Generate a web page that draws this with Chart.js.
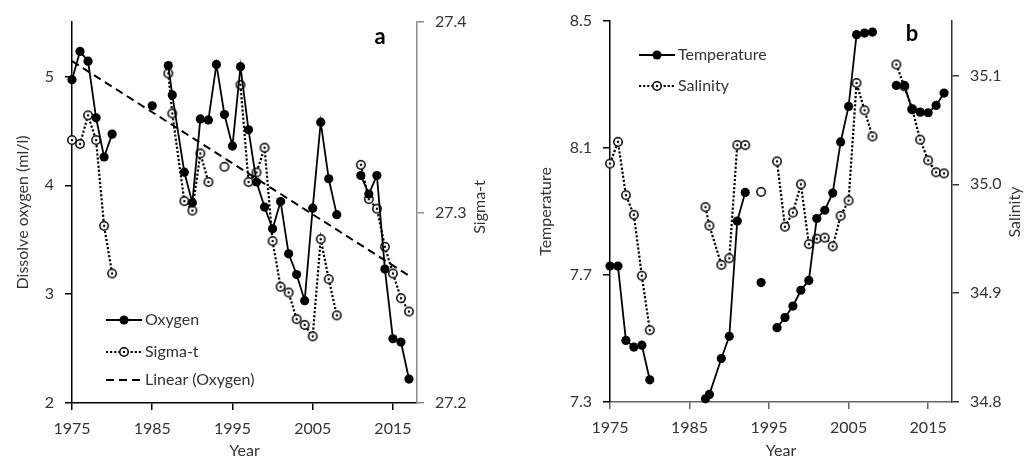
<!DOCTYPE html>
<html>
<head>
<meta charset="utf-8">
<script src="https://cdn.jsdelivr.net/npm/chart.js@4.4.1/dist/chart.umd.min.js"></script>
<style>
  html, body { margin: 0; padding: 0; background: #fff; }
  #wrap { position: relative; width: 1030px; height: 460px; }
  canvas { position: absolute; top: 0; }
  #chartA { left: 0; }
  #chartB { left: 515px; }
</style>
</head>
<body>
<div id="wrap">
  <canvas id="chartA" width="515" height="460"></canvas>
  <canvas id="chartB" width="515" height="460"></canvas>
</div>
<script>
// sample years (two cruises in 1987)
const years = [1975, 1976, 1977, 1978, 1979, 1980, 1985, 1987, 1987.5,
  1989, 1990, 1991, 1992, 1993, 1994, 1995, 1996, 1997, 1998, 1999,
  2000, 2001, 2002, 2003, 2004, 2005, 2006, 2007, 2008,
  2011, 2012, 2013, 2014, 2015, 2016, 2017];

// panel a
const oxygen = [4.97, 5.23, 5.14, 4.62, 4.26, 4.47, 4.73, 5.10, 4.83,
  4.12, 3.84, 4.61, 4.60, 5.11, 4.65, 4.36, 5.09, 4.51, 4.03, 3.80,
  3.60, 3.85, 3.37, 3.18, 2.94, 3.79, 4.58, 4.06, 3.73,
  4.09, 3.92, 4.09, 3.23, 2.59, 2.56, 2.22];
const sigmaT = [27.338, 27.336, 27.351, 27.338, 27.293, 27.268, null, 27.373, 27.352,
  27.306, 27.301, 27.331, 27.316, null, 27.324, null, 27.367, 27.316, 27.321, 27.334,
  27.285, 27.261, 27.258, 27.244, 27.241, 27.235, 27.286, 27.265, 27.246,
  27.325, 27.307, 27.302, 27.282, 27.268, 27.255, 27.248];

// panel b
const temperature = [7.728, 7.728, 7.494, 7.473, 7.479, 7.370, null, 7.310, 7.324,
  7.437, 7.507, 7.870, 7.960, null, 7.676, null, 7.534, 7.566, 7.602, 7.652,
  7.683, 7.878, 7.904, 7.958, 8.119, 8.231, 8.457, 8.462, 8.465,
  8.297, 8.297, 8.221, 8.213, 8.211, 8.234, 8.273];
const salinity = [35.019, 35.039, 34.990, 34.972, 34.916, 34.866, null, 34.979, 34.962,
  34.926, 34.932, 35.036, 35.036, null, 34.993, null, 35.021, 34.961, 34.974, 35.000,
  34.945, 34.950, 34.951, 34.943, 34.971, 34.985, 35.093, 35.068, 35.044,
  35.110, 35.090, 35.069, 35.041, 35.022, 35.011, 35.010];

// tick labels
const yearTicks = [1975, 1985, 1995, 2005, 2015];
const oxygenTicks = [2, 3, 4, 5];
const sigmaTicks = [27.2, 27.3, 27.4];
const tempTicks = [7.3, 7.7, 8.1, 8.5];
const salinityTicks = [34.8, 34.9, 35.0, 35.1];

const MAX_GAP = 1.6; // lines break where a year is missing
const FONT = 'Lato, "Open Sans", sans-serif';
const TXT = '#333';
const DOTS = [2.2, 1.9];

Chart.defaults.font.family = FONT;
Chart.defaults.font.size = 16;
Chart.defaults.color = TXT;

function pts(values) {
  return years.map((x, i) => ({ x: x, y: values[i] })).filter(p => p.y != null);
}

function linearFit(values) {
  const p = pts(values);
  const n = p.length;
  const mx = p.reduce((s, q) => s + q.x, 0) / n;
  const my = p.reduce((s, q) => s + q.y, 0) / n;
  let sxy = 0, sxx = 0;
  p.forEach(q => { sxy += (q.x - mx) * (q.y - my); sxx += (q.x - mx) * (q.x - mx); });
  const b = sxy / sxx;
  return x => my + b * (x - mx);
}

function ringMarker(withDot) {
  const c = document.createElement('canvas');
  c.width = 12; c.height = 12;
  const g = c.getContext('2d');
  g.beginPath();
  g.arc(6, 6, 4.2, 0, Math.PI * 2);
  g.fillStyle = '#fff';
  g.fill();
  g.lineWidth = 1.5;
  g.strokeStyle = '#000';
  g.stroke();
  if (withDot) {
    g.beginPath();
    g.arc(6, 6, 1.2, 0, Math.PI * 2);
    g.fillStyle = '#000';
    g.fill();
  }
  return c;
}
const ringDot = ringMarker(true);
const ringPlain = ringMarker(false);

function ringStyle(values) {
  const p = pts(values);
  return ctx => {
    const i = ctx.dataIndex;
    const near = j => j >= 0 && j < p.length && Math.abs(p[j].x - p[i].x) <= MAX_GAP;
    return (near(i - 1) || near(i + 1)) ? ringDot : ringPlain;
  };
}

const solidSet = values => ({
  data: pts(values),
  borderColor: '#000', backgroundColor: '#000',
  borderWidth: 1.8,
  pointStyle: 'circle', pointRadius: 4.6, pointBorderWidth: 0,
  pointBackgroundColor: '#000',
  spanGaps: MAX_GAP, clip: false
});
const dottedSet = values => ({
  data: pts(values),
  borderColor: '#000',
  borderWidth: 2.2, borderDash: DOTS,
  pointStyle: ringStyle(values),
  spanGaps: MAX_GAP, clip: false
});

function xAxis(height, color) {
  return {
    type: 'linear', min: 1975, max: 2018,
    afterBuildTicks: s => { s.ticks = yearTicks.map(v => ({ value: v })); },
    afterFit: s => { s.height = height; },
    border: { color: color, width: 1.5 },
    grid: { drawOnChartArea: false, color: color, lineWidth: 1.5, tickLength: 7 },
    ticks: { padding: 9, maxRotation: 0, callback: v => String(v) },
    title: { display: true, text: 'Year', padding: { top: 0, bottom: 0 } }
  };
}

function yAxis(pos, min, max, ticks, width, color, title, titlePad) {
  return {
    type: 'linear', position: pos, min: min, max: max,
    afterBuildTicks: s => { s.ticks = ticks.map(v => ({ value: v })); },
    afterFit: s => { s.width = width; },
    border: { color: color, width: 1.5 },
    grid: { drawOnChartArea: false, color: color, lineWidth: 1.5, tickLength: 7 },
    ticks: {
      padding: 11,
      callback: v => (Number.isInteger(ticks[0]) ? String(v) : v.toFixed(1))
    },
    title: title ? { display: true, text: title, padding: { top: titlePad } } : { display: false }
  };
}

// legend, panel letter and right-hand axis title
const overlay = {
  id: 'overlay',
  afterDraw(chart, args, o) {
    const ctx = chart.ctx;
    ctx.save();
    ctx.textBaseline = 'middle';
    ctx.fillStyle = TXT;
    ctx.font = '16px ' + FONT;
    o.legend.forEach(item => {
      ctx.beginPath();
      ctx.strokeStyle = '#000';
      ctx.lineWidth = item.width;
      ctx.setLineDash(item.dash);
      ctx.moveTo(o.lx, item.y);
      ctx.lineTo(o.lx + 36, item.y);
      ctx.stroke();
      ctx.setLineDash([]);
      if (item.marker === 'filled') {
        ctx.beginPath();
        ctx.arc(o.lx + 18, item.y, 4.6, 0, Math.PI * 2);
        ctx.fillStyle = '#000';
        ctx.fill();
      } else if (item.marker === 'ring') {
        ctx.drawImage(ringDot, o.lx + 12, item.y - 6);
      }
      ctx.fillStyle = TXT;
      ctx.textAlign = 'left';
      ctx.fillText(item.text, o.lx + 39, item.y);
    });
    ctx.font = 'bold 22px ' + FONT;
    ctx.fillStyle = '#000';
    ctx.textAlign = 'center';
    ctx.fillText(o.letter, o.letterX, o.letterY);
    ctx.font = '16px ' + FONT;
    ctx.fillStyle = TXT;
    ctx.translate(o.rtX, o.rtY);
    ctx.rotate(-Math.PI / 2);
    ctx.fillText(o.rtText, 0, 0);
    ctx.restore();
  }
};

const trend = linearFit(oxygen);

new Chart(document.getElementById('chartA'), {
  type: 'line',
  data: {
    datasets: [
      Object.assign(solidSet(oxygen), { label: 'Oxygen', yAxisID: 'y' }),
      Object.assign(dottedSet(sigmaT), { label: 'Sigma-t', yAxisID: 'y2' }),
      {
        label: 'Linear (Oxygen)', yAxisID: 'y',
        data: [1975, 2017].map(x => ({ x: x, y: trend(x) })),
        borderColor: '#000', borderWidth: 2, borderDash: [8, 5],
        pointRadius: 0
      }
    ]
  },
  options: {
    responsive: false, animation: false, devicePixelRatio: 1,
    layout: { padding: { top: 22, left: 0, right: 0, bottom: 0 } },
    scales: {
      x: xAxis(57, '#000'),
      y: yAxis('left', 2, 5.5, oxygenTicks, 72, '#000', 'Dissolve oxygen (ml/l)', 13),
      y2: yAxis('right', 27.2, 27.4, sigmaTicks, 98, '#8c8c8c', null)
    },
    plugins: {
      legend: { display: false },
      tooltip: { enabled: false },
      overlay: {
        lx: 106,
        legend: [
          { text: 'Oxygen', y: 320, width: 1.8, dash: [], marker: 'filled' },
          { text: 'Sigma-t', y: 352, width: 2.2, dash: DOTS, marker: 'ring' },
          { text: 'Linear (Oxygen)', y: 380, width: 2, dash: [8, 5], marker: null }
        ],
        letter: 'a', letterX: 380, letterY: 37,
        rtText: 'Sigma-t', rtX: 480, rtY: 207
      }
    }
  },
  plugins: [overlay]
});

new Chart(document.getElementById('chartB'), {
  type: 'line',
  data: {
    datasets: [
      Object.assign(solidSet(temperature), { label: 'Temperature', yAxisID: 'y' }),
      Object.assign(dottedSet(salinity), { label: 'Salinity', yAxisID: 'y2' })
    ]
  },
  options: {
    responsive: false, animation: false, devicePixelRatio: 1,
    layout: { padding: { top: 21, left: 0, right: 0, bottom: 0 } },
    scales: {
      x: xAxis(58, '#666'),
      y: yAxis('left', 7.3, 8.5, tempTicks, 95, '#000', 'Temperature', 21),
      y2: yAxis('right', 34.8, 35.15, salinityTicks, 78, '#333', null)
    },
    plugins: {
      legend: { display: false },
      tooltip: { enabled: false },
      overlay: {
        lx: 124,
        legend: [
          { text: 'Temperature', y: 55, width: 1.8, dash: [], marker: 'filled' },
          { text: 'Salinity', y: 86, width: 2.2, dash: DOTS, marker: 'ring' }
        ],
        letter: 'b', letterX: 397, letterY: 34,
        rtText: 'Salinity', rtX: 500, rtY: 212
      }
    }
  },
  plugins: [overlay]
});
</script>
</body>
</html>
